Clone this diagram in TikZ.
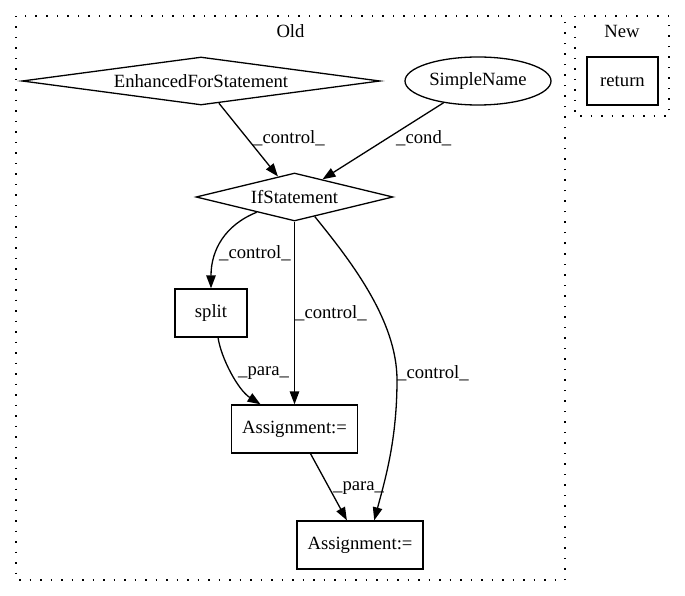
\documentclass[tikz,border=0pt]{standalone}
\usepackage{fontspec}
\setmainfont{Liberation Serif}
\usetikzlibrary{arrows.meta,shapes.geometric}

\begin{document}
\begin{tikzpicture}[x=1pt,y=-1pt,
		every node/.style={font=\fontsize{18.67}{22}\selectfont},
		box/.style={draw,line width=1.3pt,rectangle,minimum height=48pt,inner sep=0pt},
		cond/.style={draw,line width=1.3pt,diamond,minimum height=48pt,inner sep=0pt},
		lbl/.style={anchor=west,inner sep=0pt},
		flow/.style={line width=1.3pt,-{Triangle[length=13pt,width=9.5pt]}},
		cluster/.style={line width=1.3pt,dash pattern=on 1.5pt off 9pt}]
		%%%%% START %%%%%
		
		\useasboundingbox (0,0) rectangle (685,596);
		
		\draw[cluster] (16,16) rectangle (565,580);
		\draw[cluster] (575,16) rectangle (669,116);
		\node (old) at (290.5,31) {Old};
		\node (new) at (622,31) {New};
		
		\node[cond,shape aspect=7.5,minimum width=358pt] (efs) at (201,81) {EnhancedForStatement};
		\node[draw,line width=1.3pt,ellipse,minimum width=146pt,minimum height=48pt,inner sep=0pt] (sname) at (478,81) {SimpleName};
		\node[cond,shape aspect=4.1,minimum width=197pt] (ifs) at (294.5,197) {IfStatement};
		\node[box,minimum width=72pt] (split) at (211,313) {split};
		\node[box,minimum width=126pt] (asgn1) at (294.5,429) {Assignment:=};
		\node[box,minimum width=126pt] (asgn2) at (360,545) {Assignment:=};
		\node[box,minimum width=71pt] (ret) at (622.5,81) {return};
		
		\draw[flow] (efs) -- (ifs);
		\draw[flow] (sname) -- (ifs);
		\draw[flow] (ifs.202) .. controls (225,225) and (211,250) .. (split.north);
		\draw[flow] (ifs) -- (asgn1);
		\draw[flow] (ifs.-44) .. controls (350,260) and (397,320) .. (397,380) .. controls (397,440) and (385,480) .. (asgn2.60);
		\draw[flow] (split.-74) .. controls (221,358) and (238,390) .. (asgn1.144);
		\draw[flow] (asgn1.-57) -- (asgn2.118);
		
		\node[lbl] (lctrl1) at (253,138) {\_control\_};
		\node[lbl] (lcond) at (396,138) {\_cond\_};
		\node[lbl] (lctrl2) at (219,253) {\_control\_};
		\node[lbl] (lctrl3) at (295,313) {\_control\_};
		\node[lbl] (lctrl4) at (397,373) {\_control\_};
		\node[lbl] (lpara1) at (238,373) {\_para\_};
		\node[lbl] (lpara2) at (333,488) {\_para\_};
		
		%%%%% END %%%%%
	\end{tikzpicture}
\end{document}
